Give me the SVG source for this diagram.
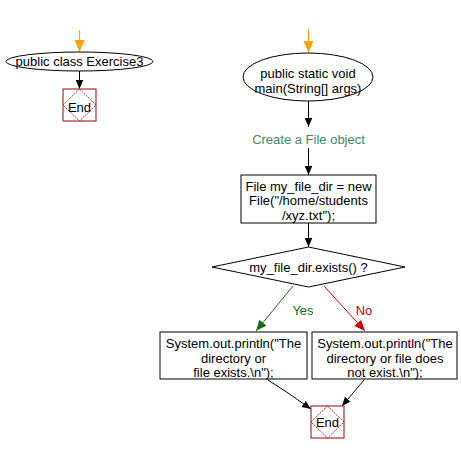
<svg xmlns="http://www.w3.org/2000/svg" width="461" height="454" viewBox="0 0 461 454">
<defs>
<style>
text{font-family:"Liberation Sans",Arial,sans-serif;font-size:13px;fill:#000;text-anchor:middle}
.shape{fill:#fff;stroke:#000;stroke-width:1}
.endbox{fill:#fff;stroke:#a33030;stroke-width:1.2}
.enddia{fill:none;stroke:#a33030;stroke-width:1;stroke-dasharray:2 1}
.ln{fill:none;stroke:#000;stroke-width:1}
.or{fill:none;stroke:#ffa500;stroke-width:1.2}
.gr{fill:none;stroke:#1a6e1a;stroke-width:1}
.rd{fill:none;stroke:#cc0000;stroke-width:1}
</style>
<marker id="ab" viewBox="0 0 12 10" markerWidth="9" markerHeight="12" refX="12" refY="5" orient="auto" markerUnits="userSpaceOnUse"><path d="M0,0 L12,5 L0,10 z" fill="#000"/></marker>
<marker id="ao" viewBox="0 0 12 10" markerWidth="13" markerHeight="10" refX="12" refY="5" orient="auto" markerUnits="userSpaceOnUse"><path d="M0,0 L12,5 L0,10 z" fill="#ffa500"/></marker>
<marker id="ag" viewBox="0 0 12 10" markerWidth="12" markerHeight="9" refX="12" refY="5" orient="auto" markerUnits="userSpaceOnUse"><path d="M0,0 L12,5 L0,10 z" fill="#1a6e1a"/></marker>
<marker id="ar" viewBox="0 0 12 10" markerWidth="12" markerHeight="9" refX="12" refY="5" orient="auto" markerUnits="userSpaceOnUse"><path d="M0,0 L12,5 L0,10 z" fill="#cc0000"/></marker>
</defs>
<g id="connectors">
<line class="or" x1="79.5" y1="30" x2="79.5" y2="52" marker-end="url(#ao)"/>
<line class="ln" x1="79.5" y1="71" x2="79.5" y2="89" marker-end="url(#ab)"/>
<line class="or" x1="308.5" y1="29" x2="308.5" y2="53" marker-end="url(#ao)"/>
<line class="ln" x1="308.5" y1="101" x2="308.5" y2="127" marker-end="url(#ab)"/>
<line class="ln" x1="308.5" y1="148" x2="308.5" y2="175" marker-end="url(#ab)"/>
<line class="ln" x1="308.5" y1="223" x2="308.5" y2="247" marker-end="url(#ab)"/>
<line class="gr" x1="293" y1="286" x2="256" y2="331" marker-end="url(#ag)"/>
<line class="rd" x1="324" y1="286" x2="365" y2="331" marker-end="url(#ar)"/>
<polyline class="ln" points="268,380 288,393 311,409" marker-end="url(#ab)"/>
<line class="ln" x1="364" y1="380" x2="342" y2="406" marker-end="url(#ab)"/>
<text x="303" y="315" style="fill:#1a6e1a">Yes</text>
<text x="364" y="315" style="fill:#cc0000">No</text>
<text x="308.5" y="143.5" style="fill:#3d8b6d">Create a File object</text>
</g>
<g id="start1">
<ellipse class="shape" cx="79.5" cy="61.5" rx="73.5" ry="9.5"/>
<text x="79.5" y="66">public class Exercise3</text>
</g>
<g id="end1">
<rect class="endbox" x="63" y="89" width="33" height="32"/>
<polygon class="enddia" points="79.5,89 96,105 79.5,121 63,105"/>
<text x="79.5" y="111.5">End</text>
</g>
<g id="start2">
<ellipse class="shape" cx="308" cy="77" rx="65" ry="24"/>
<text x="308" y="78">public static void</text>
<text x="308" y="92.5">main(String[] args)</text>
</g>
<g id="create">
<rect class="shape" x="241" y="175" width="135" height="48"/>
<text x="308.5" y="190.5">File my_file_dir = new</text>
<text x="308.5" y="205">File("/home/students</text>
<text x="308.5" y="219.5">/xyz.txt");</text>
</g>
<g id="decision">
<polygon class="shape" points="308.5,247 405,267 308.5,287 212,267"/>
<text x="308.5" y="272">my_file_dir.exists() ?</text>
</g>
<g id="yesbox">
<rect class="shape" x="160" y="332" width="147" height="47"/>
<text x="233.5" y="348">System.out.println("The</text>
<text x="233.5" y="362.5">directory or</text>
<text x="233.5" y="377">file exists.\n");</text>
</g>
<g id="nobox">
<rect class="shape" x="312" y="332" width="145" height="47"/>
<text x="385" y="348">System.out.println("The</text>
<text x="385" y="362.5">directory or file does</text>
<text x="385" y="377">not exist.\n");</text>
</g>
<g id="end2">
<rect class="endbox" x="311" y="406" width="33" height="32"/>
<polygon class="enddia" points="327.5,406 344,422 327.5,438 311,422"/>
<text x="327.5" y="427">End</text>
</g>
</svg>
